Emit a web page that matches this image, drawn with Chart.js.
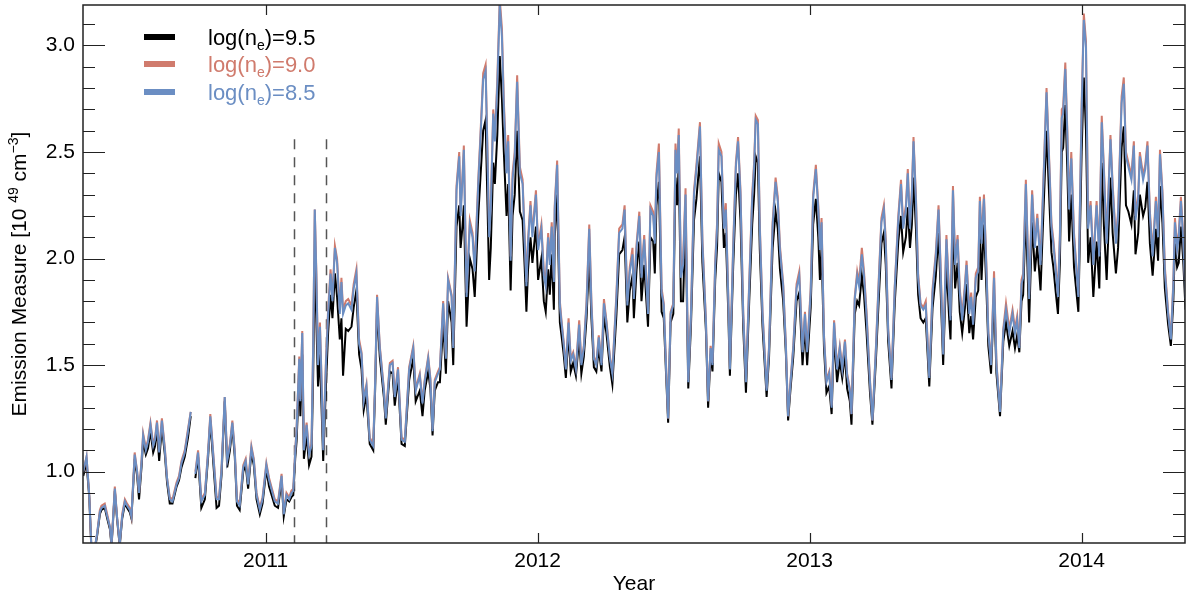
<!DOCTYPE html>
<html>
<head>
<meta charset="utf-8">
<script src="https://cdn.jsdelivr.net/npm/chart.js@4"></script>
<style>
  body { margin: 0; background: #fff; }
  canvas { display: block; }
</style>
</head>
<body>
<canvas id="em" width="1186" height="595"></canvas>
<script>
// time in decimal years
const times = [
  2010.330,2010.342,2010.352,2010.360,2010.372,2010.381,2010.391,2010.397,2010.409,2010.418,
  2010.428,2010.434,2010.446,2010.454,2010.464,2010.473,2010.483,2010.491,2010.501,2010.507,
  2010.519,2010.528,2010.535,2010.544,2010.550,2010.560,2010.568,2010.577,2010.587,2010.594,
  2010.601,2010.609,2010.619,2010.630,2010.638,2010.648,2010.658,2010.673,2010.682,2010.691,
  2010.703,2010.715,2010.725,2010.733,2010.742,2010.752,2010.764,2010.777,2010.789,2010.797,
  2010.807,2010.820,2010.829,2010.838,2010.850,2010.859,2010.869,2010.878,2010.887,2010.895,
  2010.905,2010.918,2010.927,2010.936,2010.948,2010.957,2010.967,2010.979,2010.989,2011.003,
  2011.013,2011.034,2011.046,2011.059,2011.067,2011.077,2011.087,2011.095,2011.102,2011.109,
  2011.114,2011.124,2011.128,2011.135,2011.141,2011.151,2011.160,2011.169,2011.175,2011.181,
  2011.187,2011.193,2011.200,2011.206,2011.212,2011.222,2011.230,2011.239,2011.246,2011.255,
  2011.263,2011.273,2011.279,2011.285,2011.295,2011.304,2011.316,2011.324,2011.334,2011.344,
  2011.353,2011.361,2011.371,2011.383,2011.396,2011.403,2011.410,2011.420,2011.435,2011.442,
  2011.457,2011.467,2011.475,2011.487,2011.500,2011.512,2011.528,2011.543,2011.552,2011.567,
  2011.577,2011.585,2011.598,2011.606,2011.614,2011.622,2011.634,2011.641,2011.653,2011.663,
  2011.671,2011.684,2011.690,2011.702,2011.712,2011.717,2011.724,2011.729,2011.739,2011.751,
  2011.761,2011.769,2011.782,2011.790,2011.800,2011.809,2011.816,2011.822,2011.828,2011.837,
  2011.843,2011.852,2011.861,2011.869,2011.876,2011.886,2011.892,2011.901,2011.908,2011.916,
  2011.925,2011.935,2011.945,2011.953,2011.959,2011.965,2011.974,2011.981,2011.994,2012.002,
  2012.014,2012.023,2012.030,2012.039,2012.045,2012.052,2012.060,2012.063,2012.072,2012.082,
  2012.088,2012.096,2012.104,2012.114,2012.122,2012.131,2012.141,2012.153,2012.161,2012.170,
  2012.180,2012.190,2012.198,2012.207,2012.216,2012.225,2012.235,2012.244,2012.253,2012.266,
  2012.275,2012.290,2012.300,2012.312,2012.320,2012.330,2012.339,2012.349,2012.354,2012.364,
  2012.374,2012.382,2012.392,2012.406,2012.415,2012.425,2012.431,2012.437,2012.446,2012.456,
  2012.464,2012.472,2012.480,2012.489,2012.499,2012.507,2012.513,2012.519,2012.527,2012.535,
  2012.544,2012.554,2012.564,2012.575,2012.584,2012.597,2012.606,2012.619,2012.627,2012.636,
  2012.643,2012.653,2012.660,2012.666,2012.676,2012.685,2012.692,2012.701,2012.707,2012.719,
  2012.729,2012.737,2012.746,2012.756,2012.766,2012.778,2012.789,2012.796,2012.802,2012.810,
  2012.817,2012.827,2012.842,2012.851,2012.864,2012.875,2012.883,2012.891,2012.903,2012.913,
  2012.921,2012.930,2012.940,2012.952,2012.962,2012.974,2012.983,2012.991,2013.004,2013.013,
  2013.023,2013.032,2013.038,2013.044,2013.053,2013.062,2013.072,2013.081,2013.090,2013.101,
  2013.111,2013.120,2013.130,2013.138,2013.148,2013.154,2013.166,2013.175,2013.182,2013.192,
  2013.200,2013.209,2013.222,2013.231,2013.244,2013.252,2013.264,2013.273,2013.280,2013.289,
  2013.301,2013.313,2013.326,2013.336,2013.344,2013.354,2013.361,2013.369,2013.376,2013.382,
  2013.391,2013.399,2013.408,2013.418,2013.427,2013.440,2013.452,2013.464,2013.474,2013.481,
  2013.491,2013.503,2013.513,2013.518,2013.527,2013.535,2013.544,2013.552,2013.561,2013.571,
  2013.577,2013.587,2013.594,2013.601,2013.611,2013.620,2013.626,2013.632,2013.641,2013.651,
  2013.657,2013.667,2013.678,2013.687,2013.700,2013.712,2013.722,2013.734,2013.746,2013.755,
  2013.763,2013.771,2013.779,2013.785,2013.795,2013.807,2013.818,2013.828,2013.837,2013.849,
  2013.859,2013.871,2013.883,2013.889,2013.896,2013.905,2013.913,2013.920,2013.927,2013.932,
  2013.940,2013.947,2013.954,2013.962,2013.972,2013.988,2014.000,2014.008,2014.016,2014.024,
  2014.033,2014.043,2014.055,2014.065,2014.074,2014.082,2014.092,2014.106,2014.114,2014.126,
  2014.134,2014.147,2014.155,2014.163,2014.172,2014.183,2014.192,2014.198,2014.208,2014.214,
  2014.226,2014.234,2014.242,2014.251,2014.261,2014.273,2014.281,2014.288,2014.297,2014.306,
  2014.318,2014.328,2014.337,2014.343,2014.351,2014.357,2014.365,2014.373,2014.382
];

// log(ne)=8.5
const emBlue = [
  1.00,1.07,0.89,0.64,0.64,0.71,0.81,0.83,0.84,0.79, 0.74,0.66,0.92,0.79,0.66,0.79,0.86,0.84,0.82,0.79,
  1.08,1.00,0.90,1.04,1.17,1.10,1.14,1.22,1.12,1.15, 1.23,1.09,1.24,1.10,0.97,0.87,0.86,0.94,0.97,1.04,
  1.09,1.19,1.28,null,0.99,1.09,0.86,0.89,1.09,1.26, 1.09,0.87,0.87,1.00,1.35,1.05,1.12,1.23,1.09,0.86,
  0.84,1.02,1.05,0.94,1.11,1.05,0.89,0.82,0.87,1.03, 0.96,0.86,0.85,0.98,0.80,0.89,0.87,0.90,0.91,1.09,
  1.19,1.53,1.33,1.65,1.10,1.22,1.08,1.12,1.58,2.23, 1.91,1.50,1.68,1.42,1.10,1.50,1.74,1.93,1.80,2.05,
  1.98,1.74,1.89,1.74,1.78,1.79,1.76,1.86,1.93,1.60, 1.55,1.33,1.40,1.15,1.12,1.42,1.82,1.58,1.38,1.25,
  1.50,1.51,1.35,1.48,1.15,1.14,1.48,1.58,1.38,1.45, 1.32,1.42,1.53,1.43,1.19,1.42,1.46,1.48,1.79,1.53,
  1.90,1.82,1.58,2.32,2.48,2.20,2.37,2.51,1.82,2.16, 2.10,1.94,2.35,2.56,2.84,2.88,2.48,2.10,2.23,2.68,
  2.55,2.81,3.19,3.04,2.71,2.40,2.55,1.99,2.37,2.48, 2.83,2.40,2.35,2.07,1.87,2.07,2.25,2.10,2.30,2.04,
  2.14,1.92,1.87,2.10,1.97,2.15,1.89,2.23,2.44,1.78, 1.70,1.60,1.48,1.70,1.52,1.55,1.48,1.69,1.50,1.58,
  1.78,2.14,1.78,1.53,1.50,1.63,1.50,1.79,1.70,1.53, 1.46,1.82,2.12,2.14,2.23,1.78,1.94,2.02,1.81,2.05,
  2.20,1.91,2.09,1.74,2.23,2.20,2.07,2.38,2.50,1.84, 1.78,1.50,1.25,1.74,1.78,2.51,2.40,2.58,1.91,1.97,
  2.30,1.42,1.74,2.30,2.42,2.62,2.07,1.70,1.33,1.58, 1.50,1.97,2.15,2.51,2.48,2.14,2.23,1.82,1.48,2.04,
  2.43,2.55,2.30,1.74,1.42,1.87,2.28,2.43,2.65,2.63, 2.14,1.74,1.38,1.58,2.15,2.36,2.27,2.04,1.87,1.58,
  1.26,1.42,1.58,1.86,1.92,1.56,1.74,1.56,1.84,2.28, 2.42,2.23,2.04,2.17,1.63,1.42,1.46,1.30,1.70,1.48,
  1.58,1.48,1.61,1.45,1.38,1.27,1.81,1.92,1.87,2.02, 1.92,1.74,1.42,1.24,1.58,1.82,2.17,2.23,2.07,1.66,
  1.43,1.86,2.18,2.35,2.14,2.23,2.40,2.14,2.30,2.55, 2.27,1.91,1.78,1.76,1.78,1.44,1.84,2.01,2.23,1.97,
  1.55,2.09,1.82,1.71,2.32,1.97,2.09,1.84,1.71,1.86, 1.97,1.74,1.82,1.69,1.91,1.94,2.27,2.07,2.28,1.91,
  1.65,1.50,1.91,1.50,1.28,1.66,1.76,1.65,1.74,1.65, 1.71,1.58,1.88,1.91,2.35,1.81,2.30,2.05,2.19,1.97,
  2.33,2.78,2.37,2.15,2.07,1.94,1.82,2.09,2.66,2.68, 2.89,2.60,2.23,2.47,2.10,1.82,2.69,3.12,2.99,2.14,
  2.25,1.97,2.25,2.01,2.64,2.40,2.07,2.56,2.33,2.07, 2.20,2.73,2.82,2.48,2.43,2.37,2.53,2.18,2.28,2.48,
  2.37,2.42,2.53,2.20,2.01,2.27,2.10,2.49,2.30,1.94, 1.74,1.62,1.87,2.17,2.04,2.10,2.27,2.10,1.81
];

// log(ne)=9.0
const emRed = [
  1.00,1.07,0.89,0.64,0.64,0.71,0.82,0.84,0.85,0.80, 0.74,0.66,0.93,0.79,0.66,0.80,0.87,0.85,0.83,0.79,
  1.09,1.00,0.90,1.05,1.18,1.11,1.15,1.23,1.13,1.16, 1.24,1.10,1.25,1.11,0.97,0.88,0.87,0.95,0.98,1.05,
  1.10,1.20,1.28,null,1.00,1.10,0.87,0.90,1.10,1.27, 1.10,0.88,0.88,1.01,1.35,1.06,1.13,1.24,1.10,0.87,
  0.85,1.03,1.06,0.95,1.12,1.06,0.90,0.83,0.88,1.04, 0.97,0.87,0.86,0.99,0.81,0.90,0.88,0.91,0.92,1.10,
  1.20,1.54,1.34,1.66,1.11,1.23,1.09,1.13,1.59,2.23, 1.93,1.52,1.70,1.43,1.11,1.52,1.76,1.95,1.82,2.06,
  2.00,1.76,1.91,1.76,1.80,1.81,1.78,1.88,1.95,1.62, 1.56,1.34,1.41,1.16,1.13,1.43,1.83,1.59,1.39,1.26,
  1.51,1.52,1.36,1.49,1.16,1.15,1.49,1.59,1.39,1.46, 1.33,1.43,1.54,1.44,1.20,1.43,1.47,1.49,1.80,1.54,
  1.91,1.83,1.59,2.34,2.50,2.22,2.39,2.53,1.84,2.18, 2.12,1.96,2.37,2.58,2.87,2.91,2.50,2.13,2.25,2.70,
  2.57,2.84,3.22,3.08,2.74,2.42,2.58,2.01,2.40,2.50, 2.86,2.43,2.37,2.09,1.89,2.09,2.27,2.12,2.32,2.06,
  2.16,1.94,1.89,2.12,1.99,2.17,1.91,2.25,2.46,1.80, 1.71,1.61,1.49,1.72,1.53,1.56,1.49,1.71,1.51,1.59,
  1.80,2.16,1.80,1.54,1.51,1.64,1.51,1.81,1.71,1.54, 1.47,1.84,2.14,2.16,2.25,1.80,1.96,2.05,1.83,2.07,
  2.22,1.93,2.11,1.75,2.25,2.22,2.09,2.40,2.54,1.86, 1.79,1.51,1.25,1.75,1.79,2.54,2.42,2.61,1.93,2.00,
  2.33,1.43,1.75,2.32,2.44,2.64,2.09,1.71,1.33,1.59, 1.51,1.99,2.17,2.54,2.50,2.16,2.26,1.83,1.49,2.06,
  2.45,2.57,2.32,1.75,1.43,1.89,2.30,2.45,2.67,2.65, 2.16,1.75,1.39,1.59,2.17,2.38,2.29,2.06,1.88,1.59,
  1.26,1.43,1.59,1.88,1.94,1.57,1.75,1.57,1.86,2.30, 2.44,2.25,2.06,2.19,1.64,1.43,1.47,1.31,1.71,1.49,
  1.59,1.49,1.62,1.46,1.39,1.27,1.82,1.94,1.89,2.05, 1.94,1.76,1.43,1.24,1.59,1.84,2.19,2.25,2.09,1.67,
  1.44,1.87,2.20,2.37,2.16,2.25,2.42,2.16,2.32,2.57, 2.29,1.93,1.79,1.77,1.80,1.45,1.86,2.03,2.25,1.99,
  1.56,2.11,1.84,1.73,2.34,1.99,2.11,1.86,1.73,1.88, 1.99,1.76,1.84,1.70,1.93,1.96,2.29,2.09,2.30,1.93,
  1.66,1.51,1.94,1.51,1.29,1.67,1.79,1.67,1.76,1.67, 1.73,1.59,1.90,1.93,2.37,1.83,2.32,2.07,2.21,1.99,
  2.35,2.80,2.39,2.17,2.09,1.96,1.84,2.11,2.70,2.71, 2.92,2.62,2.26,2.50,2.12,1.83,2.72,3.15,3.02,2.16,
  2.27,1.99,2.27,2.03,2.67,2.42,2.09,2.58,2.35,2.09, 2.22,2.76,2.85,2.50,2.45,2.39,2.55,2.20,2.30,2.50,
  2.39,2.44,2.55,2.22,2.03,2.29,2.12,2.51,2.32,1.96, 1.75,1.63,1.89,2.19,2.06,2.12,2.29,2.12,1.83
];

// log(ne)=9.5
const emBlack = [
  0.98,1.04,0.88,0.63,0.63,0.70,0.80,0.82,0.83,0.78, 0.73,0.65,0.91,0.78,0.65,0.78,0.85,0.83,0.81,0.78,
  1.06,0.98,0.87,1.02,1.14,1.08,1.11,1.19,1.09,1.12, 1.20,1.05,1.21,1.08,0.95,0.85,0.85,0.93,0.96,1.02,
  1.07,1.16,1.26,null,0.97,1.07,0.83,0.87,1.07,1.24, 1.06,0.83,0.84,0.98,1.33,1.02,1.10,1.21,1.07,0.84,
  0.82,1.00,1.03,0.92,1.09,1.03,0.87,0.80,0.85,1.01, 0.93,0.84,0.83,0.96,0.79,0.87,0.86,0.88,0.89,1.06,
  1.14,1.45,1.26,1.55,1.06,1.17,1.03,1.07,1.45,1.98, 1.70,1.40,1.55,1.30,1.05,1.40,1.65,1.83,1.72,1.93,
  1.82,1.62,1.72,1.45,1.67,1.66,1.68,1.77,1.85,1.55, 1.48,1.29,1.36,1.13,1.10,1.39,1.77,1.54,1.35,1.22,
  1.47,1.46,1.31,1.44,1.13,1.12,1.43,1.53,1.33,1.38, 1.26,1.38,1.47,1.39,1.17,1.38,1.42,1.42,1.70,1.46,
  1.80,1.70,1.50,2.15,2.25,2.05,2.15,2.25,1.68,2.00, 1.95,1.82,2.20,2.38,2.60,2.65,2.25,1.90,2.05,2.45,
  2.35,2.58,2.95,2.75,2.50,2.20,2.35,1.85,2.20,2.30, 2.60,2.22,2.18,1.95,1.75,1.95,2.10,1.98,2.15,1.90,
  2.00,1.80,1.75,1.95,1.83,2.02,1.76,2.10,2.30,1.70, 1.64,1.55,1.44,1.65,1.47,1.51,1.45,1.63,1.46,1.54,
  1.72,2.02,1.72,1.49,1.47,1.58,1.47,1.73,1.65,1.49, 1.41,1.74,2.02,2.04,2.10,1.70,1.85,1.92,1.72,1.95,
  2.08,1.80,1.97,1.68,2.10,2.08,1.93,2.25,2.36,1.75, 1.72,1.47,1.23,1.70,1.74,2.38,2.25,2.44,1.80,1.80,
  2.20,1.39,1.69,2.18,2.28,2.48,1.98,1.66,1.30,1.55, 1.47,1.90,2.06,2.40,2.36,2.05,2.12,1.75,1.45,1.96,
  2.30,2.40,2.18,1.68,1.37,1.80,2.16,2.30,2.48,2.45, 2.04,1.68,1.35,1.54,2.05,2.22,2.14,1.95,1.80,1.55,
  1.24,1.39,1.54,1.80,1.84,1.50,1.68,1.50,1.77,2.16, 2.28,2.10,1.90,2.05,1.58,1.37,1.40,1.27,1.64,1.42,
  1.52,1.44,1.55,1.39,1.33,1.22,1.74,1.80,1.78,1.92, 1.83,1.66,1.37,1.22,1.53,1.75,2.07,2.12,1.97,1.61,
  1.39,1.79,2.08,2.20,2.03,2.10,2.24,2.05,2.16,2.38, 2.14,1.83,1.72,1.70,1.72,1.40,1.77,1.92,2.12,1.88,
  1.50,1.98,1.72,1.62,2.18,1.86,1.98,1.75,1.65,1.77, 1.88,1.65,1.73,1.62,1.82,1.85,2.13,1.90,2.16,1.82,
  1.59,1.46,1.83,1.46,1.26,1.61,1.70,1.59,1.66,1.58, 1.64,1.56,1.80,1.83,2.22,1.70,2.17,1.94,2.06,1.85,
  2.20,2.60,2.22,2.03,1.96,1.84,1.74,1.98,2.50,2.52, 2.72,2.44,2.08,2.30,1.96,1.75,2.50,2.85,2.60,1.98,
  2.10,1.82,2.08,1.86,2.45,2.15,1.90,2.38,2.12,1.93, 2.05,2.52,2.62,2.25,2.22,2.16,2.32,2.02,2.12,2.30,
  2.20,2.24,2.36,2.07,1.92,2.14,1.99,2.34,2.17,1.86, 1.69,1.59,1.80,2.07,1.96,1.98,2.15,2.00,1.76
];

const seriesNames = ['9.5', '9.0', '8.5'];
const seriesColors = ['#000000', '#d07b6d', '#6b8ec3'];

const xRange = [2010.329, 2014.38];
const yRange = [0.665, 3.19];
const yearTicks = [2011, 2012, 2013, 2014];
const yTicks = [1.0, 1.5, 2.0, 2.5, 3.0];
const eventDates = [2011.104, 2011.224];   // dashed vertical markers
const eventTop = 2.56;

const FONT = '"Liberation Sans", Arial, Helvetica, sans-serif';

function toPoints(vals) {
  return times.map((t, i) => ({ x: t, y: vals[i] }));
}

const frameAndLabels = {
  id: 'frameAndLabels',
  beforeDatasetsDraw(chart) {
    const { ctx, scales: { x, y } } = chart;
    ctx.save();
    ctx.strokeStyle = '#555';
    ctx.lineWidth = 1.5;
    ctx.setLineDash([10, 8]);
    eventDates.forEach(d => {
      const px = Math.round(x.getPixelForValue(d)) + 0.5;
      ctx.beginPath();
      ctx.moveTo(px, y.getPixelForValue(eventTop));
      ctx.lineTo(px, y.bottom);
      ctx.stroke();
    });
    ctx.restore();
  },
  afterDraw(chart) {
    const { ctx, chartArea: a, scales: { x, y } } = chart;
    ctx.save();
    ctx.strokeStyle = '#222';
    ctx.lineWidth = 1.5;
    ctx.strokeRect(a.left, a.top, a.right - a.left, a.bottom - a.top);

    // inward tick marks, y minor every 0.1
    ctx.lineWidth = 1.2;
    for (let i = 7; i <= 31; i++) {
      const v = i / 10;
      const py = Math.round(y.getPixelForValue(v)) + 0.5;
      const len = (i % 5 === 0) ? 22 : 12;
      ctx.beginPath();
      ctx.moveTo(a.left, py); ctx.lineTo(a.left + len, py);
      ctx.moveTo(a.right, py); ctx.lineTo(a.right - len, py);
      ctx.stroke();
    }
    yearTicks.forEach(v => {
      const px = Math.round(x.getPixelForValue(v)) + 0.5;
      ctx.beginPath();
      ctx.moveTo(px, a.bottom); ctx.lineTo(px, a.bottom - 10);
      ctx.moveTo(px, a.top); ctx.lineTo(px, a.top + 10);
      ctx.stroke();
    });

    // legend
    const legY = [37, 64, 92];
    [0, 1, 2].forEach(i => {
      ctx.strokeStyle = seriesColors[i];
      ctx.lineWidth = 6;
      ctx.beginPath();
      ctx.moveTo(144, legY[i]); ctx.lineTo(175, legY[i]);
      ctx.stroke();
      ctx.fillStyle = seriesColors[i];
      ctx.textBaseline = 'alphabetic';
      let tx = 208;
      const base = legY[i] + 8;
      ctx.font = '22px ' + FONT;
      ctx.fillText('log(n', tx, base);
      tx += ctx.measureText('log(n').width;
      ctx.font = '14px ' + FONT;
      ctx.fillText('e', tx, base + 5);
      tx += ctx.measureText('e').width;
      ctx.font = '22px ' + FONT;
      ctx.fillText(')=' + seriesNames[i], tx, base);
    });

    // x title
    ctx.fillStyle = '#000';
    ctx.font = '21px ' + FONT;
    ctx.textAlign = 'center';
    ctx.textBaseline = 'middle';
    ctx.fillText('Year', (a.left + a.right) / 2, 584);

    // y title with superscripts
    const parts = [
      ['Emission Measure [10 ', 21, 0],
      ['49', 14, -8],
      [' cm', 21, 0],
      ['\u22123', 14, -8],
      [']', 21, 0]
    ];
    let total = 0;
    parts.forEach(p => { ctx.font = p[1] + 'px ' + FONT; total += ctx.measureText(p[0]).width; });
    ctx.translate(26, (a.top + a.bottom) / 2);
    ctx.rotate(-Math.PI / 2);
    ctx.textAlign = 'left';
    ctx.textBaseline = 'alphabetic';
    let cx = -total / 2;
    parts.forEach(p => {
      ctx.font = p[1] + 'px ' + FONT;
      ctx.fillText(p[0], cx, p[2]);
      cx += ctx.measureText(p[0]).width;
    });
    ctx.restore();
  }
};

new Chart(document.getElementById('em'), {
  type: 'line',
  data: {
    datasets: [
      { label: 'log(ne)=9.5', data: toPoints(emBlack), borderColor: seriesColors[0], borderWidth: 2, order: 3 },
      { label: 'log(ne)=9.0', data: toPoints(emRed), borderColor: seriesColors[1], borderWidth: 2, order: 2 },
      { label: 'log(ne)=8.5', data: toPoints(emBlue), borderColor: seriesColors[2], borderWidth: 2, order: 1 }
    ]
  },
  options: {
    responsive: false,
    animation: false,
    devicePixelRatio: 1,
    layout: { padding: { top: 5, right: 1, left: 0, bottom: 0 } },
    elements: { point: { radius: 0 }, line: { tension: 0 } },
    spanGaps: false,
    plugins: { legend: { display: false }, tooltip: { enabled: false } },
    scales: {
      x: {
        type: 'linear',
        min: xRange[0],
        max: xRange[1],
        afterBuildTicks: s => { s.ticks = yearTicks.map(v => ({ value: v })); },
        afterFit: s => { s.height = 52; s.paddingLeft = 0; s.paddingRight = 0; },
        grid: { display: false, drawTicks: false },
        border: { display: false },
        ticks: { color: '#000', padding: 6, maxRotation: 0, font: { family: FONT, size: 21 }, callback: v => String(v) }
      },
      y: {
        min: yRange[0],
        max: yRange[1],
        afterBuildTicks: s => { s.ticks = yTicks.map(v => ({ value: v })); },
        afterFit: s => { s.width = 83; s.paddingTop = 0; s.paddingBottom = 0; },
        grid: { display: false, drawTicks: false },
        border: { display: false },
        ticks: { color: '#000', padding: 8, font: { family: FONT, size: 21 }, callback: v => v.toFixed(1) }
      }
    }
  },
  plugins: [frameAndLabels]
});
</script>
</body>
</html>
